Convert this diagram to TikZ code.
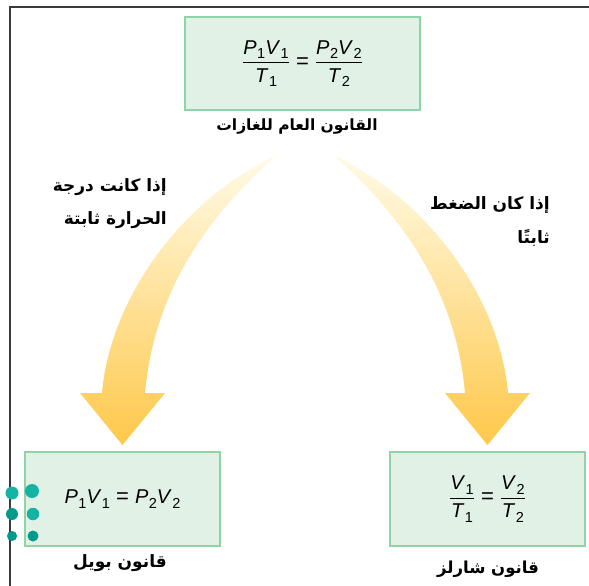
\documentclass[tikz,border=0pt]{standalone}
\usepackage{amsmath}
\usepackage{fontspec}
\setmainfont{Liberation Sans}
\newfontfamily\arabicfont[Script=Arabic]{DejaVu Sans}
\TeXXeTstate=1
\definecolor{boxfill}{HTML}{E1F1E6}
\definecolor{boxline}{HTML}{8FD3A6}
\definecolor{frameline}{HTML}{3A3A3A}
\definecolor{tealA}{HTML}{14B3A3}
\definecolor{tealB}{HTML}{009B8A}
\definecolor{arrtop}{HTML}{FFFBE8}
\definecolor{arrbot}{HTML}{FEC84A}
\newcommand{\vv}[2]{\textit{#1}\kern0.5pt\raisebox{-4.5pt}{\fontsize{14.5}{15}\selectfont #2}}
\newcommand{\eqs}{\mbox{\fontsize{22}{22}\selectfont\ =\ }}
\tikzset{
  lawbox/.style={draw=boxline, fill=boxfill, line width=2pt, inner sep=0pt},
  arlabel/.style={font=\arabicfont\bfseries\fontsize{16}{19}\selectfont, inner sep=0pt},
  condtext/.style={font=\arabicfont\bfseries\fontsize{17}{20}\selectfont, inner sep=0pt, anchor=east},
  formula/.style={font=\fontsize{20}{23}\selectfont, inner sep=0pt},
  dot/.style={circle, inner sep=0pt, draw=none},
  bigarrow/.style={top color=arrtop, bottom color=arrbot, draw=none}
}
\begin{document}
\begin{tikzpicture}[x=1pt,y=-1pt]
\useasboundingbox (0,0) rectangle (589,586);
% frame lines
\draw[frameline, line width=1.6pt] (10,586) -- (10,7) -- (589,7);
% boxes
\node[lawbox, minimum width=235pt, minimum height=93pt] (gen) at (302.5,63.5) {};
\node[lawbox, minimum width=195pt, minimum height=94pt] (boyle) at (122.5,499) {};
\node[lawbox, minimum width=195pt, minimum height=94pt] (charles) at (487.5,499) {};
% formulas
\node[formula] (genf) at (gen.center) {$\dfrac{\mbox{\vv P1\vv V1}}{\mbox{\vv T1}}\eqs\dfrac{\mbox{\vv P2\vv V2}}{\mbox{\vv T2}}$};
\node[formula] (boylef) at (boyle.center) {\vv P1\vv V1\eqs\vv P2\vv V2};
\node[formula] (charlesf) at (charles.center) {$\dfrac{\mbox{\vv V1}}{\mbox{\vv T1}}\eqs\dfrac{\mbox{\vv V2}}{\mbox{\vv T2}}$};
% labels
\node[arlabel, font=\arabicfont\bfseries\fontsize{15.5}{18}\selectfont] (genl) at (297,127) {\beginR القانون العام للغازات\endR};
\node[arlabel, font=\arabicfont\bfseries\fontsize{17}{20}\selectfont] (boylel) at (120,563) {\beginR قانون بويل\endR};
\node[arlabel, font=\arabicfont\bfseries\fontsize{16.5}{20}\selectfont] (charlesl) at (488,569) {\beginR قانون شارلز\endR};
% condition texts
\node[condtext] (c1a) at (167,187) {\beginR إذا كانت درجة\endR};
\node[condtext] (c1b) at (167,220) {\beginR الحرارة ثابتة\endR};
\node[condtext] (c2a) at (550,205) {\beginR إذا كان الضغط\endR};
\node[condtext] (c2b) at (550,238) {\beginR ثابتًا\endR};
% curved arrows
\shade[bigarrow] (277,155) .. controls (180,200) and (110,300) .. (102,393)
  -- (80,393) -- (122.5,445) -- (165,393) -- (145,393)
  .. controls (155,280) and (220,205) .. (277,155) -- cycle;
\shade[bigarrow] (333,155) .. controls (430,200) and (500,300) .. (508,393)
  -- (530,393) -- (487.5,445) -- (445,393) -- (465,393)
  .. controls (455,280) and (390,205) .. (333,155) -- cycle;
% dots
\node[dot, fill=tealA, minimum size=13pt] (d11) at (12,493) {};
\node[dot, fill=tealA, minimum size=14pt] (d12) at (32,491) {};
\node[dot, fill=tealB, minimum size=12pt] (d21) at (12,514) {};
\node[dot, fill=tealA, minimum size=12.5pt] (d22) at (33,514) {};
\node[dot, fill=tealB, minimum size=10pt] (d31) at (12,536) {};
\node[dot, fill=tealB, minimum size=11pt] (d32) at (33,536) {};
\end{tikzpicture}
\end{document}
